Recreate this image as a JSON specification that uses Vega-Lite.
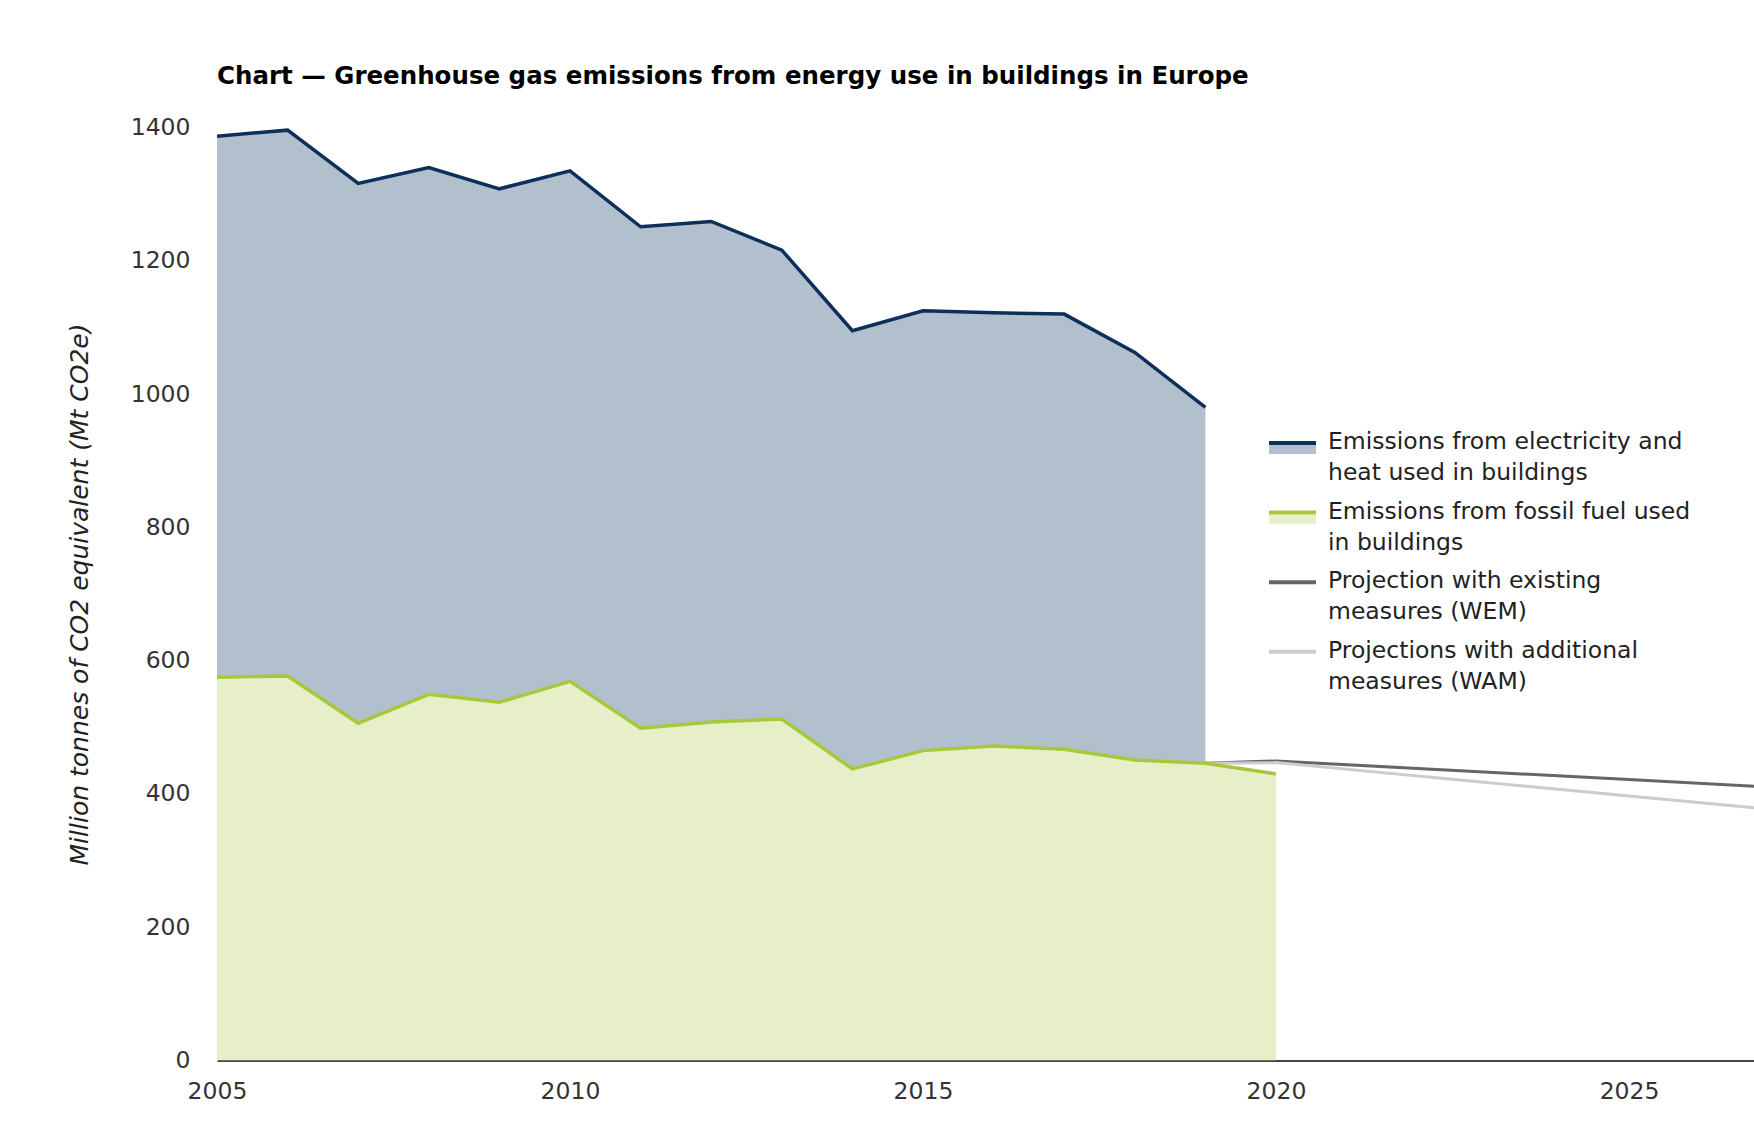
{
  "$schema": "https://vega.github.io/schema/vega-lite/v6.json",
  "width": 1537,
  "height": 933,
  "autosize": {"type": "none"},
  "padding": {"left": 217, "top": 127.5, "right": 0, "bottom": 67.5},
  "background": "white",
  "config": {"view": {"stroke": null}, "font": "DejaVu Sans"},
  "title": {
    "text": "Chart — Greenhouse gas emissions from energy use in buildings in Europe",
    "anchor": "start",
    "frame": "group",
    "font": "DejaVu Sans",
    "fontSize": 24.5,
    "fontWeight": "bold",
    "color": "#000000",
    "offset": 26
  },
  "data": {
    "values": [
      {"year": 2005, "series": "Emissions from fossil fuel used in buildings", "value": 575},
      {"year": 2006, "series": "Emissions from fossil fuel used in buildings", "value": 577},
      {"year": 2007, "series": "Emissions from fossil fuel used in buildings", "value": 506},
      {"year": 2008, "series": "Emissions from fossil fuel used in buildings", "value": 549.5},
      {"year": 2009, "series": "Emissions from fossil fuel used in buildings", "value": 537.5},
      {"year": 2010, "series": "Emissions from fossil fuel used in buildings", "value": 569},
      {"year": 2011, "series": "Emissions from fossil fuel used in buildings", "value": 498.5},
      {"year": 2012, "series": "Emissions from fossil fuel used in buildings", "value": 508},
      {"year": 2013, "series": "Emissions from fossil fuel used in buildings", "value": 512.5},
      {"year": 2014, "series": "Emissions from fossil fuel used in buildings", "value": 437.5},
      {"year": 2015, "series": "Emissions from fossil fuel used in buildings", "value": 465},
      {"year": 2016, "series": "Emissions from fossil fuel used in buildings", "value": 472},
      {"year": 2017, "series": "Emissions from fossil fuel used in buildings", "value": 467},
      {"year": 2018, "series": "Emissions from fossil fuel used in buildings", "value": 451},
      {"year": 2019, "series": "Emissions from fossil fuel used in buildings", "value": 446},
      {"year": 2020, "series": "Emissions from fossil fuel used in buildings", "value": 430},
      {"year": 2005, "series": "Emissions from electricity and heat used in buildings", "value": 812},
      {"year": 2006, "series": "Emissions from electricity and heat used in buildings", "value": 819},
      {"year": 2007, "series": "Emissions from electricity and heat used in buildings", "value": 810},
      {"year": 2008, "series": "Emissions from electricity and heat used in buildings", "value": 790.5},
      {"year": 2009, "series": "Emissions from electricity and heat used in buildings", "value": 770.5},
      {"year": 2010, "series": "Emissions from electricity and heat used in buildings", "value": 766},
      {"year": 2011, "series": "Emissions from electricity and heat used in buildings", "value": 752.5},
      {"year": 2012, "series": "Emissions from electricity and heat used in buildings", "value": 751},
      {"year": 2013, "series": "Emissions from electricity and heat used in buildings", "value": 703.5},
      {"year": 2014, "series": "Emissions from electricity and heat used in buildings", "value": 657.5},
      {"year": 2015, "series": "Emissions from electricity and heat used in buildings", "value": 660},
      {"year": 2016, "series": "Emissions from electricity and heat used in buildings", "value": 650},
      {"year": 2017, "series": "Emissions from electricity and heat used in buildings", "value": 653},
      {"year": 2018, "series": "Emissions from electricity and heat used in buildings", "value": 611.5},
      {"year": 2019, "series": "Emissions from electricity and heat used in buildings", "value": 534},
      {"year": 2019, "series": "Projection with existing measures (WEM)", "value": 446},
      {"year": 2020, "series": "Projection with existing measures (WEM)", "value": 449.5},
      {"year": 2025, "series": "Projection with existing measures (WEM)", "value": 421.5},
      {"year": 2030, "series": "Projection with existing measures (WEM)", "value": 393},
      {"year": 2019, "series": "Projections with additional measures (WAM)", "value": 446},
      {"year": 2020, "series": "Projections with additional measures (WAM)", "value": 447},
      {"year": 2025, "series": "Projections with additional measures (WAM)", "value": 397},
      {"year": 2030, "series": "Projections with additional measures (WAM)", "value": 347}
    ]
  },
  "encoding": {
    "x": {
      "field": "year",
      "type": "quantitative",
      "scale": {"domain": [2005, 2026.77], "nice": false, "zero": false},
      "axis": {
        "title": null,
        "values": [2005, 2010, 2015, 2020, 2025],
        "format": "d",
        "grid": false,
        "ticks": false,
        "labelFlush": false,
        "domainColor": "#444444",
        "domainWidth": 2,
        "labelFont": "DejaVu Sans",
        "labelFontSize": 23.5,
        "labelColor": "#333333",
        "labelPadding": 19
      }
    }
  },
  "layer": [
    {
      "transform": [{"filter": {"field": "series", "oneOf": ["Emissions from electricity and heat used in buildings", "Emissions from fossil fuel used in buildings"]}}],
      "mark": {"type": "area", "clip": true},
      "encoding": {
        "y": {
          "field": "value",
          "type": "quantitative",
          "stack": "zero",
          "impute": null,
          "scale": {"domain": [0, 1400], "nice": false},
          "axis": {
            "title": "Million tonnes of CO2 equivalent (Mt CO2e)",
            "titleFont": "DejaVu Sans",
            "titleFontStyle": "italic",
            "titleFontWeight": "normal",
            "titleFontSize": 25,
            "titleColor": "#222222",
            "titlePadding": 38,
            "values": [0, 200, 400, 600, 800, 1000, 1200, 1400],
            "format": "d",
            "grid": false,
            "domain": false,
            "ticks": false,
            "labelFont": "DejaVu Sans",
            "labelFontSize": 23.5,
            "labelColor": "#333333",
            "labelPadding": 27
          }
        },
        "order": {"field": "series", "sort": "descending"},
        "fill": {
          "field": "series",
          "type": "nominal",
          "scale": {
            "domain": ["Emissions from electricity and heat used in buildings", "Emissions from fossil fuel used in buildings"],
            "range": ["#b2bfcd", "#e7efc8"]
          },
          "legend": {
            "orient": "none",
            "legendX": 1050,
            "legendY": 290,
            "padding": 0,
            "title": null,
            "symbolType": "M-1,0.09H1V0.47H-1Z",
            "symbolSize": 2209,
            "symbolStrokeWidth": 4,
            "symbolOpacity": 1,
            "labelOpacity": 0,
            "labelFont": "DejaVu Sans",
            "labelFontSize": 23.5,
            "labelLimit": 0,
            "labelOffset": 10,
            "labelBaseline": "top",
            "rowPadding": 2.6,
            "labelExpr": "datum.label == 'Emissions from electricity and heat used in buildings' ? ['Emissions from electricity and', 'heat used in buildings'] : datum.label == 'Emissions from fossil fuel used in buildings' ? ['Emissions from fossil fuel used', 'in buildings'] : datum.label == 'Projection with existing measures (WEM)' ? ['Projection with existing', 'measures (WEM)'] : ['Projections with additional', 'measures (WAM)']",
            "encode": {
              "labels": {"update": {"lineHeight": {"value": 31}, "dy": {"value": -13}}},
              "symbols": {"update": {"stroke": {"value": "transparent"}}}
            }
          }
        }
      }
    },
    {
      "transform": [{"filter": {"field": "series", "oneOf": ["Projection with existing measures (WEM)", "Projections with additional measures (WAM)"]}}],
      "mark": {"type": "line", "clip": true, "strokeWidth": 3},
      "encoding": {
        "y": {"field": "value", "type": "quantitative"},
        "stroke": {"field": "series", "type": "nominal"}
      }
    },
    {
      "transform": [{"filter": {"field": "series", "oneOf": ["Emissions from electricity and heat used in buildings", "Emissions from fossil fuel used in buildings"]}}],
      "mark": {"type": "line", "clip": true, "strokeWidth": 3.5},
      "encoding": {
        "y": {"field": "value", "type": "quantitative", "stack": "zero", "impute": null},
        "stroke": {
          "field": "series",
          "type": "nominal",
          "scale": {
            "domain": ["Emissions from electricity and heat used in buildings", "Emissions from fossil fuel used in buildings", "Projection with existing measures (WEM)", "Projections with additional measures (WAM)"],
            "range": ["#0c3059", "#a8c83c", "#666666", "#cccccc"]
          },
          "legend": {
            "orient": "none",
            "legendX": 1050,
            "legendY": 290,
            "padding": 0,
            "title": null,
            "symbolType": "stroke",
            "symbolSize": 2209,
            "symbolStrokeWidth": 4,
            "labelFont": "DejaVu Sans",
            "labelFontSize": 23.5,
            "labelColor": "#222222",
            "labelLimit": 0,
            "labelOffset": 10,
            "labelBaseline": "top",
            "rowPadding": 2.6,
            "labelExpr": "datum.label == 'Emissions from electricity and heat used in buildings' ? ['Emissions from electricity and', 'heat used in buildings'] : datum.label == 'Emissions from fossil fuel used in buildings' ? ['Emissions from fossil fuel used', 'in buildings'] : datum.label == 'Projection with existing measures (WEM)' ? ['Projection with existing', 'measures (WEM)'] : ['Projections with additional', 'measures (WAM)']",
            "encode": {
              "labels": {"update": {"lineHeight": {"value": 31}, "dy": {"value": -13}}}
            }
          }
        }
      }
    }
  ]
}
